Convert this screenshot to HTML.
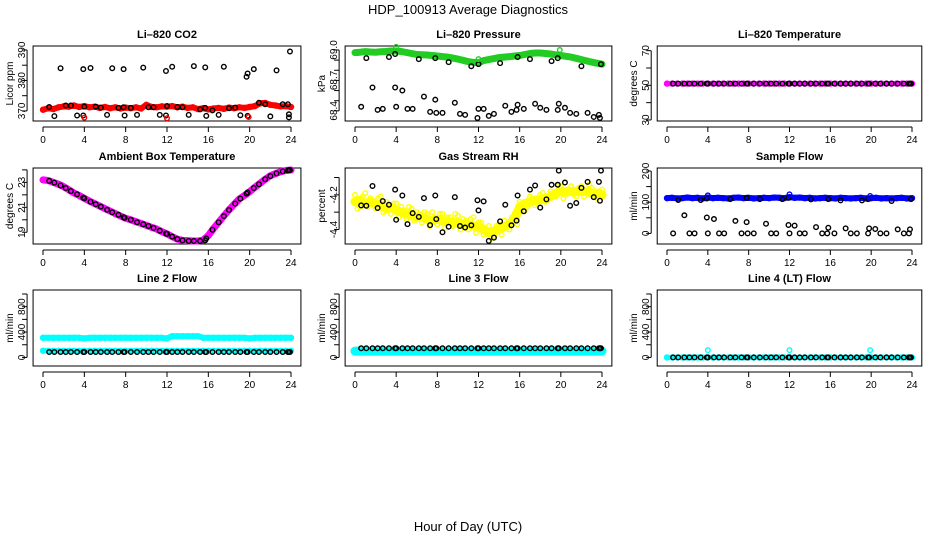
<!DOCTYPE html>
<html><head><meta charset="utf-8"><style>
html,body{margin:0;padding:0;background:#fff;}
svg{display:block;font-family:"Liberation Sans",sans-serif;}
</style></head><body>
<svg id="chart" width="936" height="540" viewBox="0 0 936 540">
<text x="468" y="14" text-anchor="middle" font-size="13">HDP_100913  Average Diagnostics</text>
<text x="468" y="531" text-anchor="middle" font-size="13">Hour of Day (UTC)</text>
</svg>
<script>
const blackHours=[0.6,1.1,1.7,2.2,2.7,3.3,3.9,4.0,4.6,5.1,5.6,6.2,6.7,7.3,7.8,7.9,8.5,9.1,9.7,10.2,10.7,11.3,11.9,12.0,12.5,13.0,13.5,14.1,14.6,15.2,15.7,15.8,16.4,17.0,17.5,18.0,18.6,19.1,19.7,19.8,20.4,20.9,21.5,22.0,22.6,23.2,23.7,23.8,23.9];
const bandHours=[0,0.5,1,1.5,2,2.5,3,3.5,4,4.5,5,5.5,6,6.5,7,7.5,8,8.5,9,9.5,10,10.5,11,11.5,12,12.5,13,13.5,14,14.5,15,15.5,16,16.5,17,17.5,18,18.5,19,19.5,20,20.5,21,21.5,22,22.5,23,23.5,24];
const bandHoursB=[0.25,0.75,1.25,1.75,2.25,2.75,3.25,3.75,4.25,4.75,5.25,5.75,6.25,6.75,7.25,7.75,8.25,8.75,9.25,9.75,10.25,10.75,11.25,11.75,12.25,12.75,13.25,13.75,14.25,14.75,15.25,15.75,16.25,16.75,17.25,17.75,18.25,18.75,19.25,19.75,20.25,20.75,21.25,21.75,22.25,22.75,23.25,23.75];
const xTicks=[0,4,8,12,16,20,24];
const outlierHours=[4.0,12.0,19.9];

const co2Band=[370.4,370.9,370.6,371.2,371.5,371.4,371.8,371.3,371.6,371.2,371.4,371.0,371.3,370.9,371.2,370.8,371.1,370.9,371.2,370.8,372.0,371.3,371.2,371.5,371.4,371.6,371.2,371.4,371.0,371.2,370.6,370.9,370.5,370.8,371.0,370.7,371.1,370.9,371.2,371.0,371.3,371.6,372.5,372.6,372.0,371.8,371.5,371.6,371.3];
const co2Black=[371.3,368.3,384.0,371.8,371.8,368.5,383.7,371.4,384.1,371.4,371.1,368.7,384.0,371.0,383.7,368.5,371.0,368.7,384.2,371.2,371.2,368.7,383.1,371.6,384.5,371.3,371.2,368.7,384.7,370.5,384.3,368.4,370.2,368.7,384.5,370.9,371.1,368.6,381.2,382.3,383.7,372.7,372.2,368.2,383.3,372.2,372.2,367.9,389.5];
const co2ExtraHours=[3.9,7.8,11.9,15.7,19.8,23.8];
const co2Extra=[368.5,371.2,368.5,371.0,368.4,368.9];
const co2Outliers=[367.8,367.6,368.0];

const presBand=[68.974,68.978,68.984,68.98,68.978,68.982,68.985,68.99,68.99,68.985,68.975,68.965,68.955,68.952,68.95,68.945,68.94,68.935,68.93,68.92,68.91,68.898,68.885,68.877,68.875,68.895,68.905,68.915,68.925,68.93,68.935,68.94,68.945,68.955,68.965,68.97,68.97,68.965,68.96,68.952,68.945,68.938,68.93,68.918,68.905,68.892,68.88,68.87,68.86];
const presBlack=[68.44,68.92,68.63,68.41,68.42,68.93,68.96,68.44,68.60,68.42,68.42,68.91,68.54,68.39,68.51,68.38,68.38,68.88,68.48,68.37,68.36,68.84,68.33,68.86,68.42,68.35,68.37,68.87,68.45,68.39,68.41,68.93,68.42,68.91,68.47,68.43,68.41,68.89,68.92,68.47,68.43,68.38,68.37,68.84,68.38,68.34,68.36,68.33,68.86];
const presExtraHours=[3.9,7.8,12.0,15.8,19.7];
const presExtra=[68.63,68.92,68.42,68.46,68.41];
const presOutliers=[69.03,68.91,69.0];

const tempBand=[51,51,51,51,51,51,51,51,51,51,51,51,51,51,51,51,51,51,51,51,51,51,51,51,51,51,51,51,51,51,51,51,51,51,51,51,51,51,51,51,51,51,51,51,51,51,51,51,51];
const tempBlack=[51,51,51,51,51,51,51,51,51,51,51,51,51,51,51,51,51,51,51,51,51,51,51,51,51,51,51,51,51,51,51,51,51,51,51,51,51,51,51,51,51,51,51,51,51,51,51,51,51];

const ambBand=[23.2,23.15,23.0,22.85,22.65,22.4,22.15,21.95,21.72,21.5,21.3,21.1,20.9,20.7,20.5,20.3,20.12,20.0,19.85,19.7,19.55,19.4,19.25,19.05,18.87,18.65,18.45,18.35,18.33,18.3,18.3,18.38,18.73,19.3,19.8,20.3,20.79,21.25,21.67,21.95,22.25,22.6,22.92,23.25,23.53,23.7,23.85,23.95,23.99];
const ambBlack=[23.12,22.98,22.75,22.55,22.3,22.05,21.78,21.72,21.45,21.25,21.05,20.8,20.6,20.4,20.2,20.15,20.0,19.8,19.64,19.5,19.35,19.12,18.9,18.87,18.65,18.45,18.35,18.3,18.3,18.3,18.35,18.5,19.2,19.8,20.3,20.79,21.3,21.7,22.1,22.2,22.55,22.85,23.25,23.5,23.72,23.88,23.96,23.98,23.99];

const rhBandA=[-4.20,-4.27,-4.19,-4.22,-4.28,-4.21,-4.24,-4.31,-4.25,-4.27,-4.34,-4.28,-4.30,-4.36,-4.31,-4.30,-4.37,-4.31,-4.33,-4.38,-4.32,-4.34,-4.40,-4.33,-4.36,-4.43,-4.38,-4.44,-4.37,-4.35,-4.40,-4.31,-4.24,-4.29,-4.21,-4.26,-4.20,-4.24,-4.18,-4.21,-4.15,-4.20,-4.15,-4.21,-4.15,-4.19,-4.16,-4.22,-4.17];
const rhBandB=[-4.28,-4.21,-4.27,-4.26,-4.22,-4.30,-4.26,-4.25,-4.33,-4.29,-4.27,-4.35,-4.31,-4.30,-4.38,-4.33,-4.31,-4.39,-4.33,-4.31,-4.40,-4.35,-4.34,-4.42,-4.36,-4.40,-4.45,-4.38,-4.43,-4.39,-4.33,-4.37,-4.25,-4.27,-4.22,-4.25,-4.19,-4.23,-4.19,-4.14,-4.22,-4.17,-4.20,-4.16,-4.21,-4.14,-4.20,-4.18];
const rhBandC=[-4.24,-4.23,-4.25,-4.24,-4.25,-4.26,-4.28,-4.27,-4.29,-4.30,-4.31,-4.32,-4.33,-4.33,-4.34,-4.35,-4.34,-4.35,-4.35,-4.36,-4.36,-4.37,-4.37,-4.38,-4.38,-4.40,-4.42,-4.41,-4.40,-4.38,-4.37,-4.34,-4.27,-4.25,-4.24,-4.23,-4.23,-4.22,-4.21,-4.19,-4.18,-4.18,-4.18,-4.18,-4.18,-4.18,-4.19,-4.19,-4.20];
const rhBlack=[-4.261,-4.263,-4.149,-4.276,-4.236,-4.257,-4.170,-4.344,-4.204,-4.369,-4.306,-4.327,-4.219,-4.375,-4.204,-4.34,-4.416,-4.384,-4.213,-4.380,-4.389,-4.376,-4.231,-4.290,-4.238,-4.466,-4.447,-4.353,-4.257,-4.376,-4.349,-4.204,-4.295,-4.170,-4.146,-4.274,-4.226,-4.142,-4.142,-4.060,-4.129,-4.263,-4.247,-4.160,-4.125,-4.213,-4.125,-4.234,-4.06];

const flowBand=[113,114,112,113,115,113,114,112,115,113,114,113,112,114,115,113,114,112,113,114,113,115,114,113,116,114,115,113,114,112,113,114,113,112,114,113,112,113,114,112,113,114,112,113,112,113,114,112,113];
const flowBlack=[0,107,58,0,0,107,51,0,46,0,0,110,40,0,36,0,0,110,31,0,0,110,27,0,25,0,0,109,20,0,0,18,0,106,16,0,0,106,0,16,14,0,0,104,13,0,0,13,110];
const flowExtraHours=[3.9,7.8,11.9,15.8,19.7];
const flowExtra=[112,114,114,110,110];
const flowOutliers=[122,125,120];

const l2High=[310,310,310,310,310,310,310,310,300,310,310,310,310,310,310,310,310,310,310,310,310,310,310,310,300,335,335,335,335,335,335,310,310,310,310,310,310,310,310,310,300,310,310,310,310,310,310,310,310];
const l2Low=[105,105,105,105,105,105,105,105,105,105,105,105,105,105,105,105,105,105,105,105,105,105,105,105,105,105,105,105,105,105,105,105,105,105,105,105,105,105,105,105,105,105,105,105,105,105,105,105,105];
const l2Black=[85,85,85,85,85,85,85,85,85,85,85,85,85,85,85,85,85,85,85,85,85,85,85,85,85,85,85,85,85,85,85,85,85,85,85,85,85,85,85,85,85,85,85,85,85,85,85,85,85];
const l3Band=[100,100,100,100,100,100,100,100,100,100,100,100,100,100,100,100,100,100,100,100,100,100,100,100,100,100,100,100,100,100,100,100,100,100,100,100,100,100,100,100,100,100,100,100,100,100,100,100,100];
const l3Black=[145,145,145,145,145,145,145,145,145,145,145,145,145,145,145,145,145,145,145,145,145,145,145,145,145,145,145,145,145,145,145,145,145,145,145,145,145,145,145,145,145,145,145,145,145,145,145,145,145];
const l4Band=[0,0,0,0,0,0,0,0,0,0,0,0,0,0,0,0,0,0,0,0,0,0,0,0,0,0,0,0,0,0,0,0,0,0,0,0,0,0,0,0,0,0,0,0,0,0,0,0,0];
const l4Black=[0,0,0,0,0,0,0,0,0,0,0,0,0,0,0,0,0,0,0,0,0,0,0,0,0,0,0,0,0,0,0,0,0,0,0,0,0,0,0,0,0,0,0,0,0,0,0,0,0];
const l4Outliers=[115,115,115];

const NS='http://www.w3.org/2000/svg';
const svg=document.getElementById('chart');
function mk(tag,attrs,parent){const e=document.createElementNS(NS,tag);for(const k in attrs)e.setAttribute(k,attrs[k]);(parent||svg).appendChild(e);return e;}

const cols=[{x0:43,x24:291,yl:25,tl:13},{x0:355,x24:602,yl:337,tl:325},{x0:667,x24:912,yl:649,tl:637}];
const rows=[{top:46,bot:121},{top:168,bot:244},{top:290,bot:366}];

function panel(name,c,r,title,ylab,ymin,ymax,ticks,labels){
  const C=cols[c],R=rows[r];
  const g=mk('g',{});
  
  
  const sx=h=>C.x0+(h/24)*(C.x24-C.x0);
  const sy=v=>R.bot-(v-ymin)/(ymax-ymin)*(R.bot-R.top);
  const left=sx(-0.96),right=sx(24.96);
  const t=mk('text',{x:(left+right)/2,y:R.top-8,'text-anchor':'middle','font-size':11,'font-weight':'bold'},g);
  t.textContent=title;
  
  
  const box=mk('rect',{x:left,y:R.top,width:right-left,height:R.bot-R.top,fill:'none',stroke:'#000','stroke-width':1},g);
  
  
  const xa=mk('g',{},g);
  
  
  mk('line',{x1:sx(0),x2:sx(24),y1:R.bot+6,y2:R.bot+6,stroke:'#000'},xa);
  xTicks.forEach(h=>{
    mk('line',{x1:sx(h),x2:sx(h),y1:R.bot+6,y2:R.bot+11,stroke:'#000'},xa);
    const l=mk('text',{x:sx(h),y:R.bot+22,'text-anchor':'middle','font-size':10},xa);
    l.textContent=h;
    
    
  });
  const ya=mk('g',{},g);
  
  
  const ax=left-6;
  mk('line',{x1:ax,x2:ax,y1:sy(ticks[0]),y2:sy(ticks[ticks.length-1]),stroke:'#000'},ya);
  ticks.forEach(v=>{
    mk('line',{x1:ax,x2:ax-5,y1:sy(v),y2:sy(v),stroke:'#000'},ya);
  });
  labels.forEach(v=>{
    const l=mk('text',{transform:`translate(${C.yl},${sy(v)}) rotate(-90)`,'text-anchor':'middle','font-size':10},ya);
    l.textContent=v;
    
    
  });
  const yt=mk('text',{transform:`translate(${C.tl},${(R.top+R.bot)/2}) rotate(-90)`,'text-anchor':'middle','font-size':10},ya);
  yt.textContent=ylab;
  
  
  return {g,sx,sy,name};
}
function series(P,hours,vals,color,sname,rad,sw){
  const s=mk('g',{fill:'none',stroke:color,'stroke-width':sw},P.g);
  
  
  hours.forEach((h,i)=>{
    if(vals[i]===undefined)return;
    const c=mk('circle',{cx:P.sx(h),cy:P.sy(vals[i]),r:rad},s);
    
    
  });
}
function band(P,hours,vals,color,sname,width){
  const pts=hours.map((h,i)=>P.sx(h).toFixed(1)+','+P.sy(vals[i]).toFixed(1)).join(' ');
  const pl=mk('polyline',{points:pts,fill:'none',stroke:color,'stroke-width':width,'stroke-linejoin':'round','stroke-linecap':'round'},P.g);
  
  
  series(P,hours,vals,color,sname,2.5,1.4);
}
const KR=2.3,KW=1.4;

let P=panel('co2',0,0,'Li\u2013820 CO2','Licor ppm',366.7,391.3,[370,375,380,385,390],[370,380,390]);
band(P,bandHours,co2Band,'#ff0000','band',6);
series(P,blackHours,co2Black,'#000','points',KR,KW);
series(P,co2ExtraHours,co2Extra,'#000','extra-points',KR,KW);
series(P,outlierHours,co2Outliers,'#ff0000','outliers',KR,KW);

P=panel('pressure',1,0,'Li\u2013820 Pressure','kPa',68.30,69.039,[68.4,68.5,68.6,68.7,68.8,68.9,69.0],['68.4','68.7','69.0']);
band(P,bandHours,presBand,'#22cc22','band',7);
series(P,blackHours,presBlack,'#000','points',KR,KW);
series(P,presExtraHours,presExtra,'#000','extra-points',KR,KW);
series(P,outlierHours,presOutliers,'#22cc22','outliers',KR,KW);

P=panel('li820-temp',2,0,'Li\u2013820 Temperature','degrees C',29.4,72.7,[30,40,50,60,70],[30,50,70]);
band(P,bandHours,tempBand,'#ff00ff','band',5);
series(P,blackHours,tempBlack,'#000','points',KR,KW);

P=panel('ambient-temp',0,1,'Ambient Box Temperature','degrees C',18.06,24.15,[19,20,21,22,23,24],[19,21,23]);
band(P,bandHours,ambBand,'#ff00ff','band',7);
series(P,blackHours,ambBlack,'#000','points',KR,KW);

P=panel('rh',1,1,'Gas Stream RH','percent',-4.484,-4.045,[-4.4,-4.3,-4.2,-4.1],['-4.4','-4.2']);
band(P,bandHours,rhBandC,'#ffff00','band-core',9);
series(P,bandHours,rhBandA,'#ffff00','band-a',KR,KW);
series(P,bandHoursB,rhBandB,'#ffff00','band-b',KR,KW);
series(P,blackHours,rhBlack,'#000','points',KR,KW);

P=panel('sample-flow',2,1,'Sample Flow','ml/min',-34,209.6,[0,50,100,150,200],[0,100,200]);
band(P,bandHours,flowBand,'#0000ff','band',6);
series(P,blackHours,flowBlack,'#000','points',KR,KW);
series(P,flowExtraHours,flowExtra,'#000','extra-points',KR,KW);
series(P,outlierHours,flowOutliers,'#0000ff','outliers',KR,KW);

const fT=[0,200,400,600,800,1000],fL=[0,400,800];
P=panel('line2',0,2,'Line 2 Flow','ml/min',-135,1063,fT,fL);
band(P,bandHours,l2High,'#00ffff','band-high',6);
band(P,bandHours,l2Low,'#00ffff','band-low',5);
series(P,blackHours,l2Black,'#000','points',KR,KW);

P=panel('line3',1,2,'Line 3 Flow','ml/min',-135,1063,fT,fL);
band(P,bandHours,l3Band,'#00ffff','band',9);
series(P,blackHours,l3Black,'#000','points',KR,KW);

P=panel('line4',2,2,'Line 4 (LT) Flow','ml/min',-135,1063,fT,fL);
band(P,bandHours,l4Band,'#00ffff','band',5);
series(P,blackHours,l4Black,'#000','points',KR,KW);
series(P,outlierHours,l4Outliers,'#00ffff','outliers',KR,KW);
</script>
</body></html>
